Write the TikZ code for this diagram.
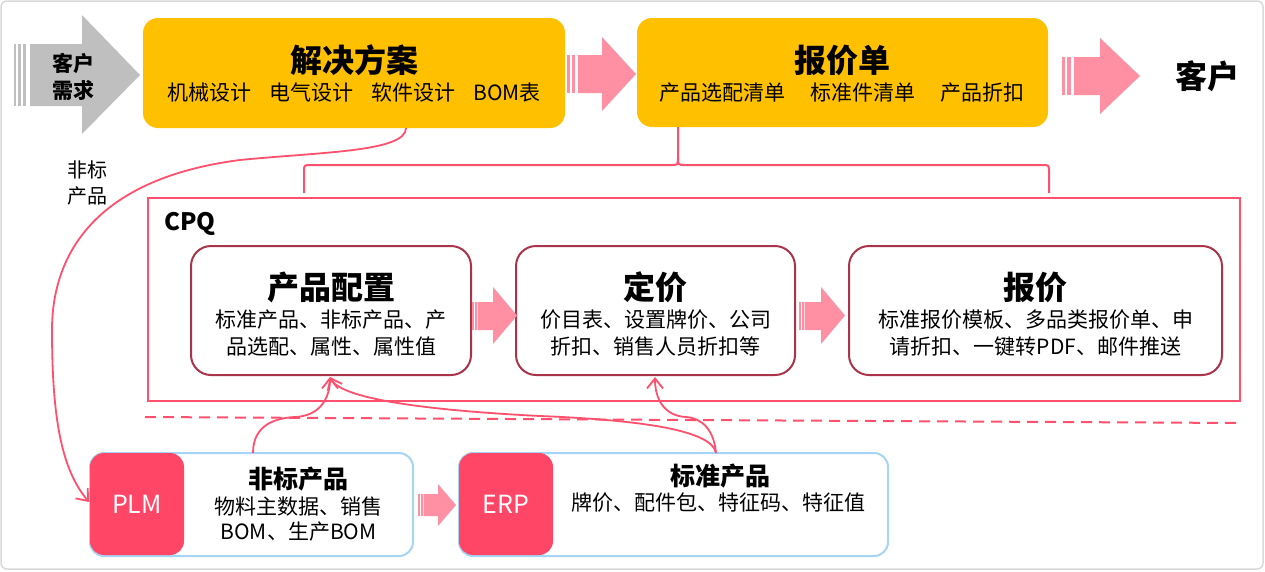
\documentclass[tikz,border=0pt]{standalone}
\usepackage{fontspec}
\setmainfont{Noto Sans CJK SC}
\usetikzlibrary{arrows.meta}
\definecolor{ybox}{RGB}{255,192,0}
\definecolor{pkfill}{RGB}{255,143,163}
\definecolor{redline}{RGB}{255,80,110}
\definecolor{darkred}{RGB}{170,52,74}
\definecolor{lblue}{RGB}{165,212,245}
\definecolor{plmred}{RGB}{255,70,102}
\definecolor{grayarr}{RGB}{191,191,191}
\begin{document}
\begin{tikzpicture}[x=1pt,y=-1pt,
  ybx/.style={fill=ybox, draw=none, rounded corners=15pt, inner sep=0pt},
  cbox/.style={draw=darkred, line width=2pt, fill=white, rounded corners=20pt, inner sep=0pt, minimum height=129pt},
  bbox/.style={draw=lblue, line width=2pt, fill=white, rounded corners=14pt, inner sep=0pt, minimum height=103pt},
  rbox/.style={fill=plmred, draw=none, rounded corners=14pt, inner sep=0pt, minimum width=94pt, minimum height=102pt, text=white, font=\fontsize{25}{29}\selectfont},
  tbig/.style={font=\bfseries\fontsize{32}{38}\selectfont, inner sep=0pt},
  tmid/.style={font=\bfseries\fontsize{25}{30}\selectfont, inner sep=0pt},
  tsub/.style={font=\fontsize{21}{27}\selectfont, inner sep=0pt, align=center},
  rcurve/.style={draw=redline, line width=1.8pt, -{Straight Barb[length=10pt,width=16pt,line width=1.8pt]}},
  rline/.style={draw=redline, line width=2pt},
]
\useasboundingbox (0,0) rectangle (1265,571);
\fill[white] (0,0) rectangle (1265,571);
\draw[black!15, line width=1.5pt, rounded corners=6pt] (1,1) rectangle (1263,569);

% gray input arrow
\fill[grayarr] (14,44) rectangle (16,106);
\fill[grayarr] (18,44) rectangle (21,106);
\fill[grayarr] (23,44) rectangle (25.5,106);
\fill[grayarr] (30,44) -- (82,44) -- (82,15) -- (140,75) -- (82,134) -- (82,106) -- (30,106) -- cycle;
\node[font=\bfseries\fontsize{21}{27}\selectfont, align=center, inner sep=0pt] (req) at (73,77) {客户\\需求};

% top boxes
\node[ybx, minimum width=422pt, minimum height=110pt] (sol) at (354,73) {};
\node[tbig] (solT) at (354,60) {解决方案};
\node[tsub] (solS) at (354,93) {机械设计\hspace{18pt}电气设计\hspace{18pt}软件设计\hspace{18pt}BOM表};

\node[ybx, minimum width=411pt, minimum height=109pt] (quo) at (842.5,72.5) {};
\node[tbig] (quoT) at (842,60) {报价单};
\node[tsub] (quoS) at (842,93) {产品选配清单\hspace{25pt}标准件清单\hspace{25pt}产品折扣};

% pink arrow 1
\fill[pkfill] (567,55) rectangle (569.5,93);
\fill[pkfill] (571.5,55) rectangle (575,93);
\fill[pkfill] (578,55) -- (602,55) -- (602,37) -- (636,74) -- (602,111) -- (602,93) -- (578,93) -- cycle;
% pink arrow 2
\fill[pkfill] (1062,57) rectangle (1065,95);
\fill[pkfill] (1067,57) rectangle (1071,95);
\fill[pkfill] (1074,57) -- (1100,57) -- (1100,38) -- (1140,76) -- (1100,114) -- (1100,95) -- (1074,95) -- cycle;

\node[tbig] (cust) at (1207,76) {客户};

% brace
\draw[rline] (304,193) -- (304,172) .. controls (304,165) .. (311,165) -- (671,165) .. controls (678,165) .. (678,157) -- (quo.south -| 678,0);
\draw[rline] (678,157) .. controls (678,165) .. (685,165) -- (1042,165) .. controls (1049,165) .. (1049,172) -- (1049,193);

% CPQ frame
\node[draw=redline, line width=2pt, inner sep=0pt, minimum width=1092pt, minimum height=203pt] (cpq) at (694,299) {};
\node[font=\bfseries\fontsize{24}{28}\selectfont, inner sep=0pt] (cpqT) at (190,224) {CPQ};

\node[cbox, minimum width=280pt] (cfg) at (331,310.5) {};
\node[tbig] (cfgT) at (331,287) {产品配置};
\node[tsub] (cfgS) at (331,333.5) {标准产品、非标产品、产\\品选配、属性、属性值};

\node[cbox, minimum width=279pt] (prc) at (655.5,310.5) {};
\node[tbig] (prcT) at (655.5,287) {定价};
\node[tsub] (prcS) at (655.5,333.5) {价目表、设置牌价、公司\\折扣、销售人员折扣等};

\node[cbox, minimum width=373pt] (qt) at (1035.5,310.5) {};
\node[tbig] (qtT) at (1035.5,287) {报价};
\node[tsub] (qtS) at (1035.5,333.5) {标准报价模板、多品类报价单、申\\请折扣、一键转PDF、邮件推送};

% pink arrows inside CPQ
\fill[pkfill] (472,302) rectangle (473.5,330);
\fill[pkfill] (474.5,302) rectangle (476.5,330);
\fill[pkfill] (477.5,302) -- (493,302) -- (493,287) -- (517,315.5) -- (493,344) -- (493,330) -- (477.5,330) -- cycle;
\fill[pkfill] (799,302) rectangle (800.5,330);
\fill[pkfill] (801.5,302) rectangle (803.5,330);
\fill[pkfill] (804.5,302) -- (821,302) -- (821,287) -- (845,315.5) -- (821,344) -- (821,330) -- (804.5,330) -- cycle;

% dashed separator
\draw[redline, line width=2pt, dash pattern=on 11pt off 7pt] (145,417) -- (1240,423);

% bottom boxes
\node[bbox, minimum width=323pt] (plmB) at (251.5,504.5) {};
\node[rbox] (plm) at (137,504) {PLM};
\node[tmid] (plmT) at (298.5,479) {非标产品};
\node[tsub, font=\fontsize{21}{25}\selectfont] (plmS) at (298.5,519.5) {物料主数据、销售\\BOM、生产BOM};

\node[bbox, minimum width=429pt] (erpB) at (673.5,504.5) {};
\node[rbox] (erp) at (506,504) {ERP};
\node[tmid] (erpT) at (720,476) {标准产品};
\node[tsub] (erpS) at (718,503) {牌价、配件包、特征码、特征值};

% pink arrow PLM -> ERP
\fill[pkfill] (418,494) rectangle (419.5,516);
\fill[pkfill] (420.5,494) rectangle (422.5,516);
\fill[pkfill] (423.5,494) -- (438,494) -- (438,484) -- (456,505) -- (438,526) -- (438,516) -- (423.5,516) -- cycle;

% left label
\node[font=\fontsize{20}{26}\selectfont, align=center, inner sep=0pt] (nsp) at (87,183) {非标\\产品};

% curves
\coordinate (solOut) at (406,128);
\coordinate (plmIn) at (89,502);
\draw[rcurve] (solOut) .. controls (406,152) and (320,152) .. (240,160) .. controls (100,178) and (52,250) .. (52,330) .. controls (52,420) and (62,470) .. (plmIn);

\coordinate (cfgIn) at (330,377);
\coordinate (prcIn) at (655,377);
\coordinate (plmOut) at (253,453);
\coordinate (erpOut) at (716,453);
\draw[rcurve] (plmOut) .. controls (253,425) and (275,418) .. (295,417) .. controls (320,416) and (330,398) .. (cfgIn);
\draw[rcurve] (erpOut) .. controls (712,430) and (640,420) .. (540,416) .. controls (420,410) and (340,398) .. (cfgIn);
\draw[rcurve] (erpOut) .. controls (714,430) and (702,418) .. (686,417) .. controls (665,416) and (655,400) .. (prcIn);
\end{tikzpicture}
\end{document}
